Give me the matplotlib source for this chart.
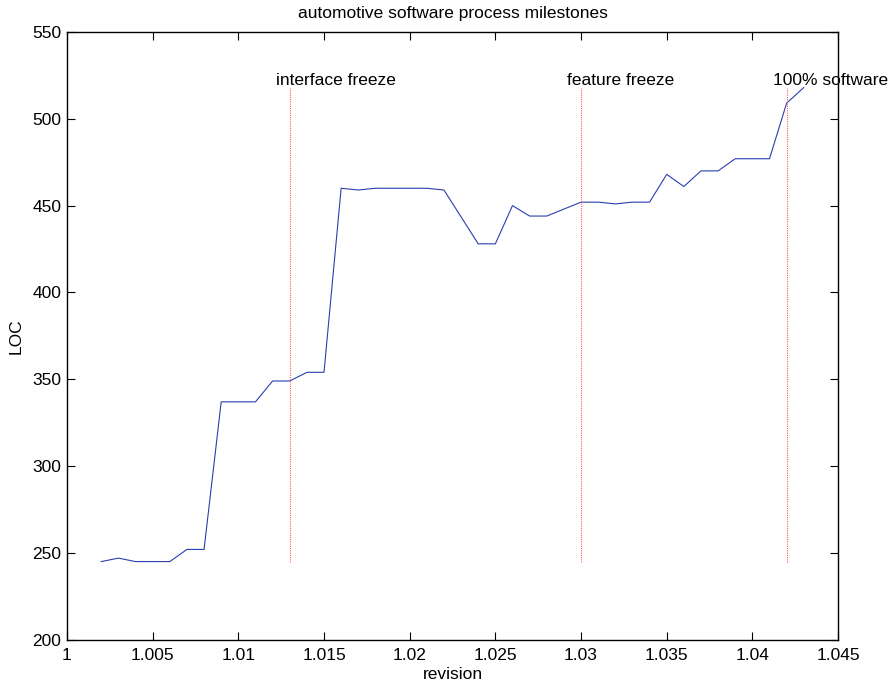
import matplotlib
matplotlib.use("Agg")
import matplotlib.pyplot as plt

plt.rcParams['font.family'] = ['Liberation Sans', 'DejaVu Sans']

# revision vs lines of code
revision = [1.002, 1.003, 1.004, 1.005, 1.006, 1.007, 1.008, 1.009, 1.010, 1.011,
            1.012, 1.013, 1.014, 1.015, 1.016, 1.017, 1.018, 1.019, 1.020, 1.021,
            1.022, 1.024, 1.025, 1.026, 1.027, 1.028, 1.030, 1.031, 1.032, 1.033,
            1.034, 1.035, 1.036, 1.037, 1.038, 1.039, 1.040, 1.041, 1.042, 1.043]
loc = [245, 247, 245, 245, 245, 252, 252, 337, 337, 337,
       349, 349, 354, 354, 460, 459, 460, 460, 460, 460,
       459, 428, 428, 450, 444, 444, 452, 452, 451, 452,
       452, 468, 461, 470, 470, 477, 477, 477, 509, 518]

# milestones
milestone_x = [1.013, 1.030, 1.042]
milestone_names = ['interface freeze', 'feature freeze', '100% software']
milestone_lo = 245
milestone_hi = 518
label_y = 522

fig = plt.figure(figsize=(8.92, 6.85), dpi=100)
ax = fig.add_axes([0.0751, 0.0661, 0.8644, 0.8872])

fs = 12.5
ax.plot(revision, loc, color='#2a3fae', linewidth=0.8)
for mx, name in zip(milestone_x, milestone_names):
    ax.plot([mx, mx], [milestone_lo, milestone_hi], color='#ff5a5a',
            linestyle=(0, (1, 1)), linewidth=0.8)
    ax.text(mx - 0.0008, label_y, name, fontsize=fs, va='center', ha='left',
            clip_on=False)

ax.set_xlim(1, 1.045)
ax.set_ylim(200, 550)
ax.set_xticks([1, 1.005, 1.01, 1.015, 1.02, 1.025, 1.03, 1.035, 1.04, 1.045])
ax.set_xticklabels(['1', '1.005', '1.01', '1.015', '1.02', '1.025', '1.03',
                    '1.035', '1.04', '1.045'])
ax.set_yticks(range(200, 551, 50))
ax.tick_params(direction='in', top=True, right=True, length=6, labelsize=fs)
ax.tick_params(axis='x', pad=6)
ax.tick_params(axis='y', pad=4)
for s in ax.spines.values():
    s.set_linewidth(1.0)

ax.set_xlabel('revision', fontsize=fs, labelpad=3)
ax.set_ylabel('LOC', fontsize=fs, labelpad=6)
ax.set_title('automotive software process milestones', fontsize=fs, pad=10)

fig.savefig('out.png', dpi=100)
